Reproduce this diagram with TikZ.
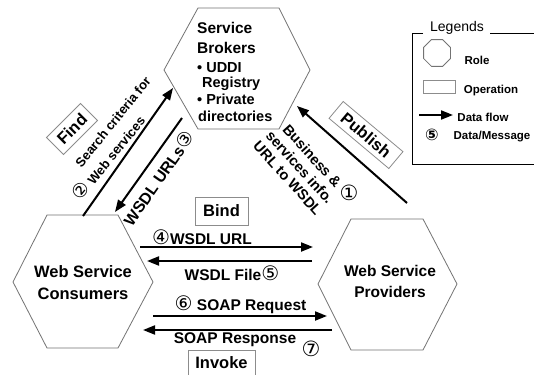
\documentclass[tikz,border=0pt]{standalone}
\usepackage{fontspec}
\setmainfont{Liberation Sans}
\newfontfamily\circfont{DejaVu Sans}
\usetikzlibrary{arrows.meta,shapes.geometric}
\newcommand\myfs[1]{\fontsize{#1}{#1}\selectfont}
\newcommand\cnum[1]{{\circfont\mdseries\myfs{20}#1}}
\begin{document}
\begin{tikzpicture}[x=1pt,y=-1pt,
  hex/.style={draw=black!55, line width=0.8pt},
  flow/.style={line width=2pt, -{Triangle[length=12pt,width=9pt]}},
  opbox/.style={draw=black!45, line width=0.8pt, inner sep=0pt, font=\bfseries\myfs{16.5}},
  lbl/.style={font=\bfseries\myfs{15.5}, inner sep=0pt},
  brk/.style={font=\bfseries\myfs{14.5}, inner sep=0pt, anchor=base west},
  num/.style={font=\circfont\myfs{21}, inner sep=0pt},
  leg/.style={font=\bfseries\myfs{11.5}, inner sep=0pt},
  legline/.style={draw=black, line width=0.9pt}
]
\fill[white] (0,0) rectangle (534,374);
\useasboundingbox (0,0) rectangle (534,374);

% hexagons (roles)
\draw[hex] (164,70) -- (198,8) -- (279,8) -- (310,70) -- (279,129) -- (198,129) -- cycle;
\draw[hex] (13,282) -- (47,215) -- (118,215) -- (153,282) -- (118,348) -- (47,348) -- cycle;
\draw[hex] (318,284) -- (351,219) -- (423,219) -- (457,284) -- (423,350) -- (351,350) -- cycle;

% role labels
\node[font=\bfseries\myfs{15.5}, inner sep=0pt, anchor=base west] (brk1) at (197,33.5) {Service};
\node[font=\bfseries\myfs{15.5}, inner sep=0pt, anchor=base west] (brk2) at (197,53.5) {Brokers};
\node[brk] (brk3) at (197,73) {• UDDI};
\node[brk] (brk4) at (202,88) {Registry};
\node[brk] (brk5) at (197,105) {• Private};
\node[brk] (brk6) at (198,122) {directories};
\node[font=\bfseries\fontsize{16.5}{22}\selectfont, align=center, inner sep=0pt] (cons) at (83,283) {Web Service\\Consumers};
\node[font=\bfseries\fontsize{15.5}{21}\selectfont, align=center, inner sep=0pt] (prov) at (390,281) {Web Service\\Providers};

% operations
\node[opbox, rotate=45, minimum width=48pt, minimum height=24pt] (find) at (72,129) {Find};
\node[opbox, rotate=-40, minimum width=78pt, minimum height=22pt] (publish) at (366,135) {Publish};
\node[opbox, minimum width=53pt, minimum height=28pt] (bind) at (221.5,211) {Bind};
\node[opbox, minimum width=67pt, minimum height=28pt, anchor=north] (invoke) at (221.5,350) {};
\node[font=\bfseries\myfs{16.5}, inner sep=0pt] (invoketxt) at (221.5,363) {Invoke};

% data flows
\coordinate (a1s) at (407,203); \coordinate (a1e) at (297,106);
\coordinate (a2s) at (83,216);  \coordinate (a2e) at (173,88);
\coordinate (a3s) at (182,118); \coordinate (a3e) at (115,212);
\coordinate (a4s) at (140,247); \coordinate (a4e) at (313,247);
\coordinate (a5s) at (312,261); \coordinate (a5e) at (147,261);
\coordinate (a6s) at (153,316); \coordinate (a6e) at (327,316);
\coordinate (a7s) at (332,330); \coordinate (a7e) at (143,330);
\draw[flow] (a1s) -- (a1e);
\draw[flow] (a2s) -- (a2e);
\draw[flow] (a3s) -- (a3e);
\draw[flow] (a4s) -- (a4e);
\draw[flow] (a5s) -- (a5e);
\draw[flow] (a6s) -- (a6e);
\draw[flow] (a7s) -- (a7e);

% flow labels
\node[font=\bfseries\fontsize{14.5}{16.5}\selectfont, align=center, rotate=-48, inner sep=0pt] (biz) at (300,167) {Business \&\\services info.\\URL to WSDL};
\node[num] (n1) at (349,193) {①};
\node[font=\bfseries\myfs{13}, rotate=51, inner sep=0pt] (s1) at (113,122) {Search criteria for};
\node[font=\bfseries\myfs{13}, rotate=51, inner sep=0pt] (s2) at (108,157) {{\circfont\mdseries\myfs{19}②} Web services};
\node[font=\bfseries\myfs{16}, rotate=55, inner sep=0pt] (s3) at (158,178) {WSDL URLs{\circfont\mdseries\myfs{19}③}};
\node[lbl] (t4) at (202,237) {\cnum{④}WSDL URL};
\node[lbl] (t5) at (232,273) {WSDL File\cnum{⑤}};
\node[lbl] (t6) at (240.5,305) {\cnum{⑥} SOAP Request};
\node[lbl] (t7) at (235,340) {SOAP Response};
\node[num] (n7) at (311,349) {⑦};

% legend
\draw[legline] (423,33) -- (412,33) -- (412,164) -- (540,164);
\draw[legline] (490,33) -- (540,33);
\node[font=\myfs{14}, inner sep=0pt, anchor=base] (legt) at (457,32) {Legends};
\node[draw=black!55, line width=0.8pt, regular polygon, regular polygon sides=8, minimum size=29pt, inner sep=0pt] (oct) at (437,53) {};
\node[leg] (lrole) at (477,60) {Role};
\node[draw=black!45, line width=0.8pt, minimum width=32pt, minimum height=13pt, inner sep=0pt] (lrect) at (439,86.5) {};
\node[leg] (lop) at (491,91) {Operation};
\coordinate (la1) at (419,115); \coordinate (la2) at (453,115);
\draw[flow] (la1) -- (la2);
\node[leg] (lflow) at (483,117) {Data flow};
\node[font=\circfont\bfseries\myfs{16}, inner sep=0pt] (lnum) at (432,135) {⑤};
\node[leg] (lmsg) at (492,137) {Data/Message};
\end{tikzpicture}
\end{document}
